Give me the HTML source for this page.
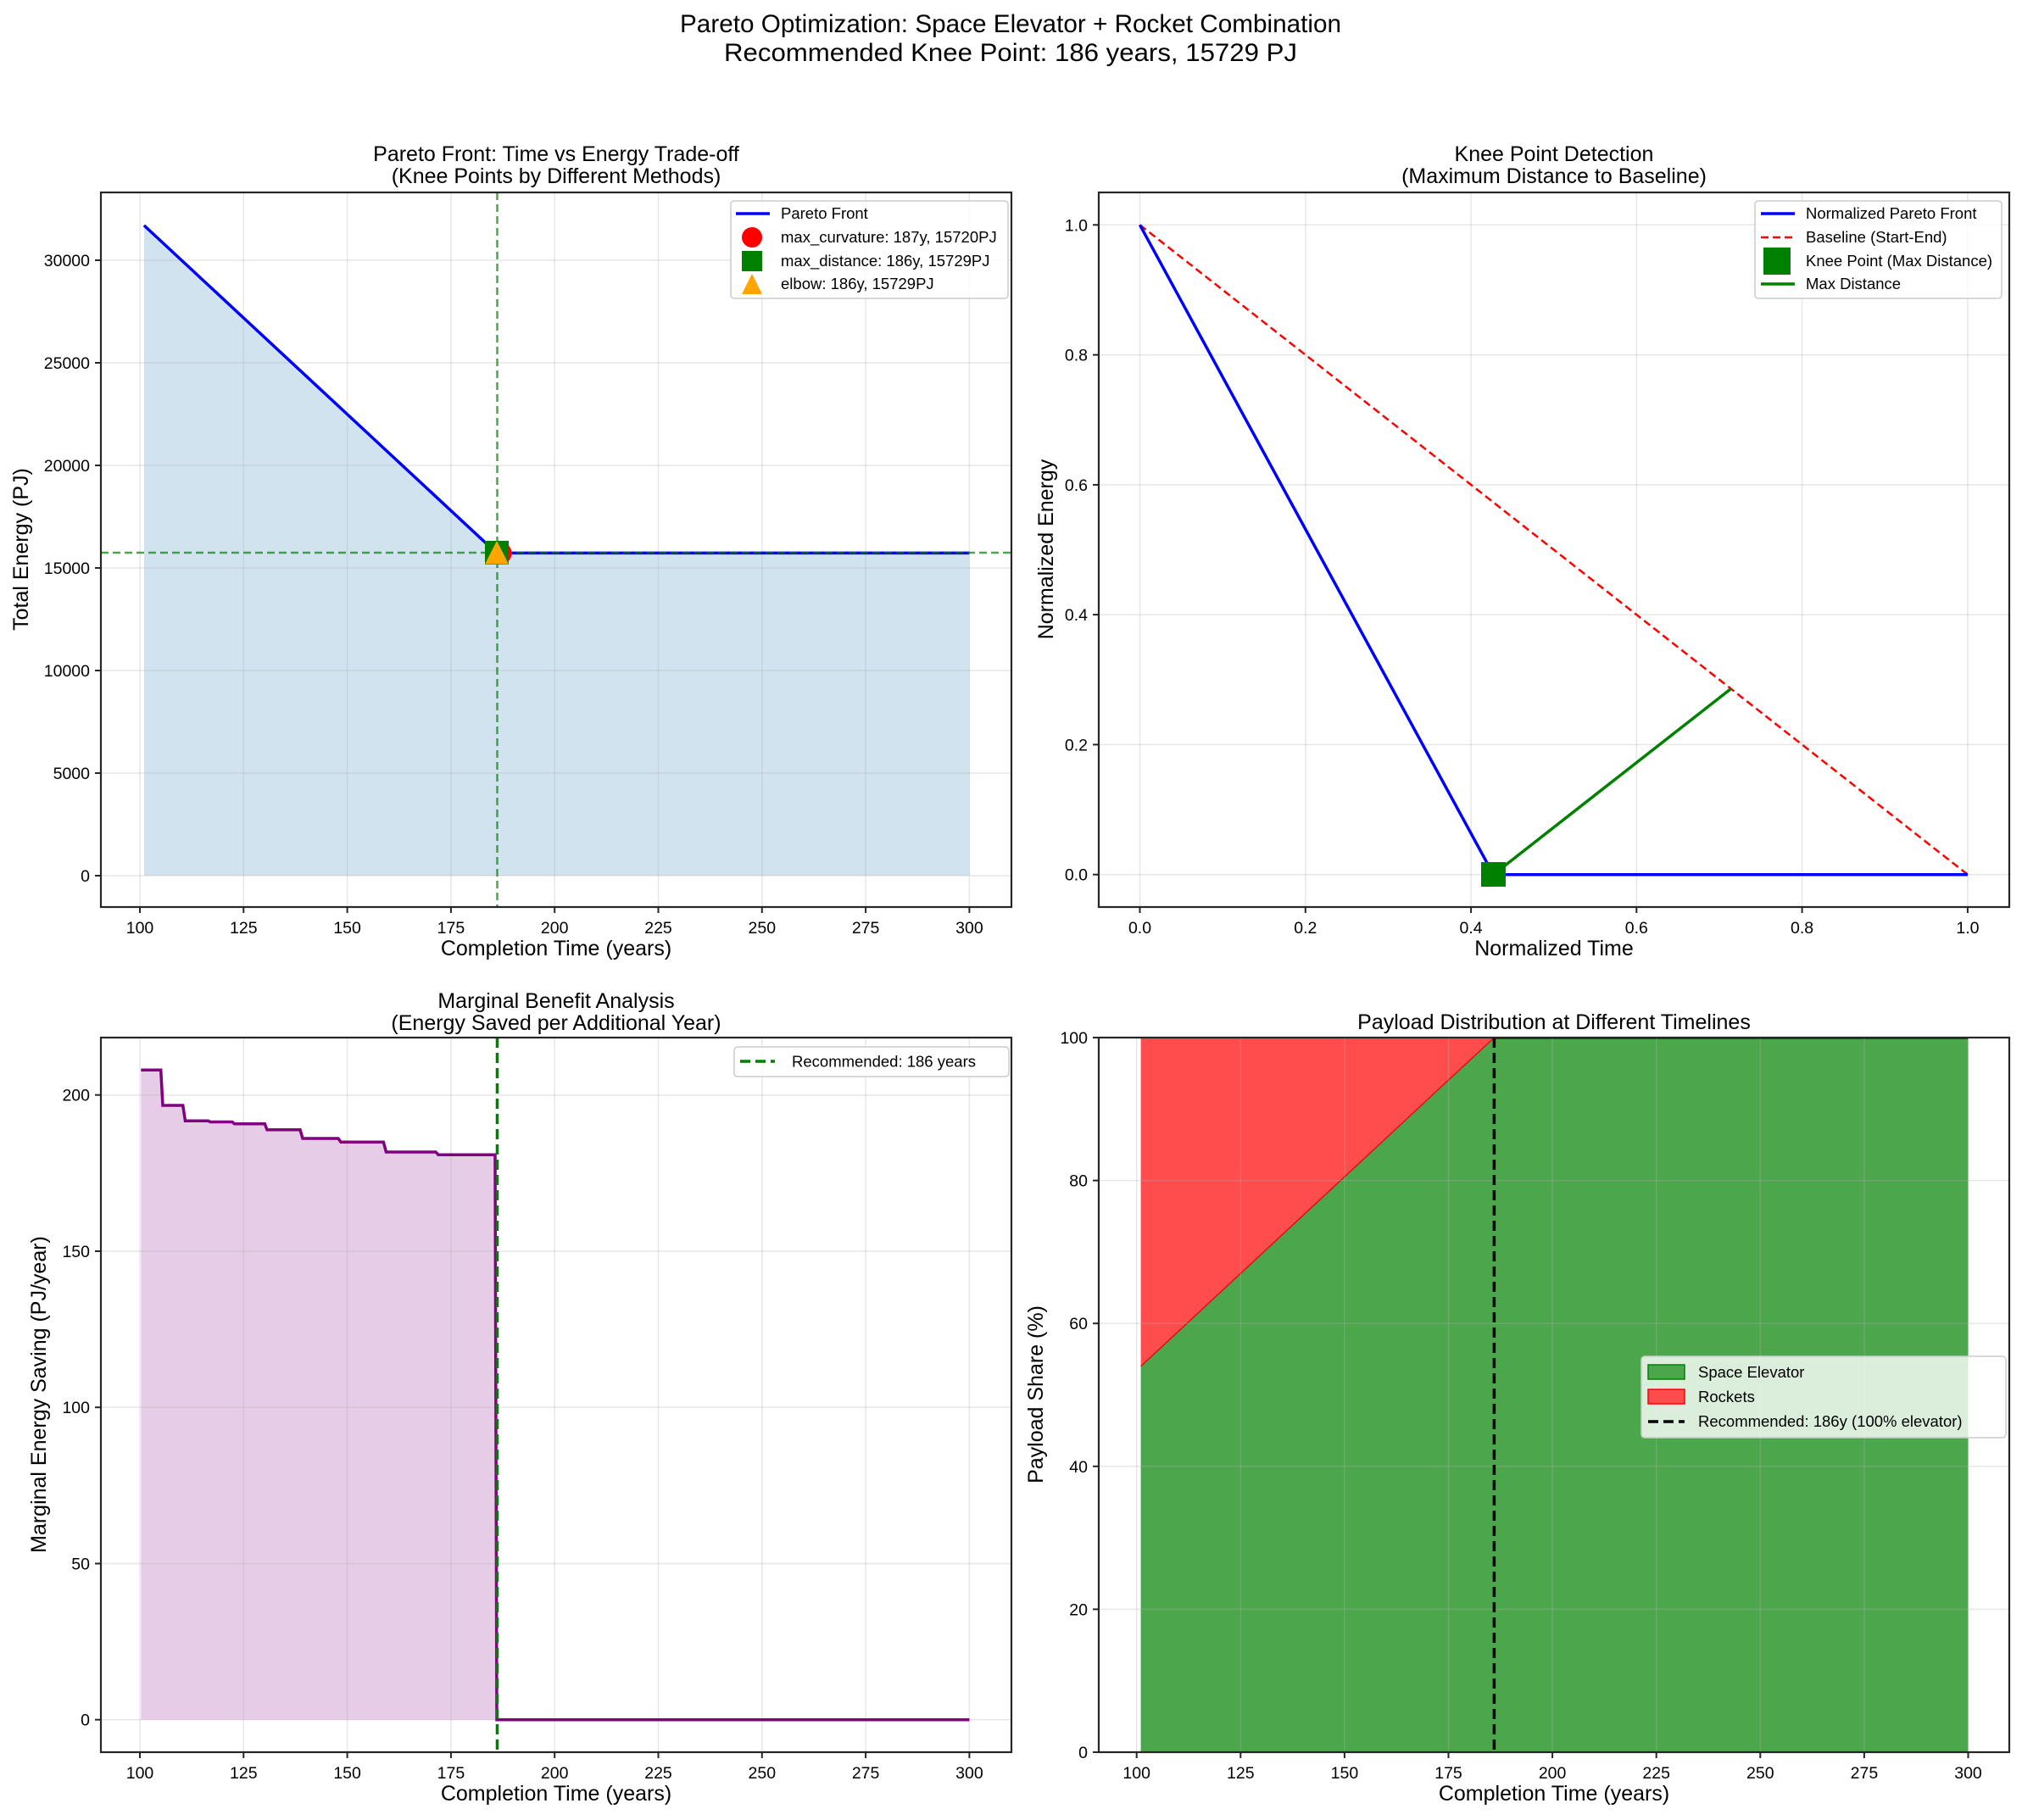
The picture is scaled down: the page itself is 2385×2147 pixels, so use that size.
<!DOCTYPE html>
<html><head><meta charset="utf-8"><style>
html,body{margin:0;padding:0;background:#fff}
svg{display:block}
text{font-family:"Liberation Sans",Arial,sans-serif;fill:#000}
.tk{font-size:19.5px}
.lb{font-size:25px}
.tt{font-size:25px}
.lg{font-size:18.5px}
.g{stroke:#b0b0b0;stroke-opacity:0.3;stroke-width:1.5}
.ax{fill:none;stroke:#262626;stroke-width:2.2}
.t{stroke:#262626;stroke-width:2}
</style></head><body>
<svg width="2385" height="2147" viewBox="0 0 2385 2147" xmlns="http://www.w3.org/2000/svg">
<rect width="2385" height="2147" fill="#fff"/>
<text x="1192" y="38" text-anchor="middle" font-size="29.5" textLength="780" lengthAdjust="spacingAndGlyphs">Pareto Optimization: Space Elevator + Rocket Combination</text>
<text x="1192" y="72" text-anchor="middle" font-size="29.5" textLength="676" lengthAdjust="spacingAndGlyphs">Recommended Knee Point: 186 years, 15729 PJ</text>

<!-- ===== Top-left ===== -->
<g>
<polygon points="169.9,265.9 585.7,652.4 1143.4,652.4 1143.4,1033 169.9,1033" fill="#d2e3f0"/>
<g class="g">
<line x1="165" y1="227" x2="165" y2="1070"/><line x1="287.3" y1="227" x2="287.3" y2="1070"/><line x1="409.6" y1="227" x2="409.6" y2="1070"/><line x1="531.9" y1="227" x2="531.9" y2="1070"/><line x1="654.2" y1="227" x2="654.2" y2="1070"/><line x1="776.5" y1="227" x2="776.5" y2="1070"/><line x1="898.8" y1="227" x2="898.8" y2="1070"/><line x1="1021.1" y1="227" x2="1021.1" y2="1070"/><line x1="1143.4" y1="227" x2="1143.4" y2="1070"/>
<line x1="119" y1="1033" x2="1193" y2="1033"/><line x1="119" y1="912" x2="1193" y2="912"/><line x1="119" y1="791" x2="1193" y2="791"/><line x1="119" y1="670" x2="1193" y2="670"/><line x1="119" y1="549" x2="1193" y2="549"/><line x1="119" y1="428" x2="1193" y2="428"/><line x1="119" y1="307" x2="1193" y2="307"/>
</g>
<polyline points="169.9,265.9 585.7,652.4 1143.4,652.4" fill="none" stroke="#0000ff" stroke-width="3.5"/>
<line x1="586.5" y1="227" x2="586.5" y2="1070" stroke="#008000" stroke-opacity="0.7" stroke-width="2.5" stroke-dasharray="9,5"/>
<line x1="119" y1="652" x2="1193" y2="652" stroke="#008000" stroke-opacity="0.7" stroke-width="2.5" stroke-dasharray="9,5"/>
<circle cx="590.6" cy="652.6" r="13" fill="#ff0000"/>
<rect x="572" y="638" width="28" height="28" fill="#008000"/>
<polygon points="586,638 600,665.5 572,665.5" fill="#ffa500"/>
<rect x="119" y="227" width="1074" height="843" class="ax"/>
<g class="t">
<line x1="165" y1="1070" x2="165" y2="1077"/><line x1="287.3" y1="1070" x2="287.3" y2="1077"/><line x1="409.6" y1="1070" x2="409.6" y2="1077"/><line x1="531.9" y1="1070" x2="531.9" y2="1077"/><line x1="654.2" y1="1070" x2="654.2" y2="1077"/><line x1="776.5" y1="1070" x2="776.5" y2="1077"/><line x1="898.8" y1="1070" x2="898.8" y2="1077"/><line x1="1021.1" y1="1070" x2="1021.1" y2="1077"/><line x1="1143.4" y1="1070" x2="1143.4" y2="1077"/>
<line x1="112" y1="1033" x2="119" y2="1033"/><line x1="112" y1="912" x2="119" y2="912"/><line x1="112" y1="791" x2="119" y2="791"/><line x1="112" y1="670" x2="119" y2="670"/><line x1="112" y1="549" x2="119" y2="549"/><line x1="112" y1="428" x2="119" y2="428"/><line x1="112" y1="307" x2="119" y2="307"/>
</g>
<g class="tk" text-anchor="middle">
<text x="165" y="1101">100</text><text x="287.3" y="1101">125</text><text x="409.6" y="1101">150</text><text x="531.9" y="1101">175</text><text x="654.2" y="1101">200</text><text x="776.5" y="1101">225</text><text x="898.8" y="1101">250</text><text x="1021.1" y="1101">275</text><text x="1143.4" y="1101">300</text>
</g>
<g class="tk" text-anchor="end">
<text x="106" y="1040">0</text><text x="106" y="919">5000</text><text x="106" y="798">10000</text><text x="106" y="677">15000</text><text x="106" y="556">20000</text><text x="106" y="435">25000</text><text x="106" y="314">30000</text>
</g>
<text x="656" y="1127" text-anchor="middle" class="lb">Completion Time (years)</text>
<text transform="translate(33,648) rotate(-90)" text-anchor="middle" class="lb">Total Energy (PJ)</text>
<text x="656" y="190" text-anchor="middle" class="tt">Pareto Front: Time vs Energy Trade-off</text>
<text x="656" y="216" text-anchor="middle" class="tt">(Knee Points by Different Methods)</text>
<rect x="862" y="237" width="327" height="115" rx="4" fill="#fff" fill-opacity="0.8" stroke="#cccccc" stroke-width="1.5"/>
<line x1="868" y1="252" x2="908" y2="252" stroke="#0000ff" stroke-width="3.5"/>
<circle cx="887" cy="280" r="12" fill="#ff0000"/>
<rect x="875" y="296" width="24" height="24" fill="#008000"/>
<polygon points="887,323 899,347 875,347" fill="#ffa500"/>
<g class="lg"><text x="921" y="258">Pareto Front</text><text x="921" y="286">max_curvature: 187y, 15720PJ</text><text x="921" y="314">max_distance: 186y, 15729PJ</text><text x="921" y="341">elbow: 186y, 15729PJ</text></g>
</g>

<!-- ===== Top-right ===== -->
<g>
<g class="g">
<line x1="1344.5" y1="227" x2="1344.5" y2="1070"/><line x1="1539.8" y1="227" x2="1539.8" y2="1070"/><line x1="1735.1" y1="227" x2="1735.1" y2="1070"/><line x1="1930.3" y1="227" x2="1930.3" y2="1070"/><line x1="2125.6" y1="227" x2="2125.6" y2="1070"/><line x1="2320.9" y1="227" x2="2320.9" y2="1070"/>
<line x1="1296" y1="1031.7" x2="2370" y2="1031.7"/><line x1="1296" y1="878.4" x2="2370" y2="878.4"/><line x1="1296" y1="725.1" x2="2370" y2="725.1"/><line x1="1296" y1="571.9" x2="2370" y2="571.9"/><line x1="1296" y1="418.6" x2="2370" y2="418.6"/><line x1="1296" y1="265.3" x2="2370" y2="265.3"/>
</g>
<line x1="1344.5" y1="265.3" x2="2320.9" y2="1031.7" stroke="#ff0000" stroke-width="2.5" stroke-dasharray="9,5"/>
<polyline points="1344.5,265.3 1761.5,1031.7 2320.9,1031.7" fill="none" stroke="#0000ff" stroke-width="3.5"/>
<line x1="1761.5" y1="1031.7" x2="2041.7" y2="812.5" stroke="#008000" stroke-width="3.5"/>
<rect x="1747" y="1017" width="29" height="29" fill="#008000"/>
<rect x="1296" y="227" width="1074" height="843" class="ax"/>
<g class="t">
<line x1="1344.5" y1="1070" x2="1344.5" y2="1077"/><line x1="1539.8" y1="1070" x2="1539.8" y2="1077"/><line x1="1735.1" y1="1070" x2="1735.1" y2="1077"/><line x1="1930.3" y1="1070" x2="1930.3" y2="1077"/><line x1="2125.6" y1="1070" x2="2125.6" y2="1077"/><line x1="2320.9" y1="1070" x2="2320.9" y2="1077"/>
<line x1="1289" y1="1031.7" x2="1296" y2="1031.7"/><line x1="1289" y1="878.4" x2="1296" y2="878.4"/><line x1="1289" y1="725.1" x2="1296" y2="725.1"/><line x1="1289" y1="571.9" x2="1296" y2="571.9"/><line x1="1289" y1="418.6" x2="1296" y2="418.6"/><line x1="1289" y1="265.3" x2="1296" y2="265.3"/>
</g>
<g class="tk" text-anchor="middle">
<text x="1344.5" y="1101">0.0</text><text x="1539.8" y="1101">0.2</text><text x="1735.1" y="1101">0.4</text><text x="1930.3" y="1101">0.6</text><text x="2125.6" y="1101">0.8</text><text x="2320.9" y="1101">1.0</text>
</g>
<g class="tk" text-anchor="end">
<text x="1283" y="1038.7">0.0</text><text x="1283" y="885.4">0.2</text><text x="1283" y="732.1">0.4</text><text x="1283" y="578.9">0.6</text><text x="1283" y="425.6">0.8</text><text x="1283" y="272.3">1.0</text>
</g>
<text x="1833" y="1127" text-anchor="middle" class="lb">Normalized Time</text>
<text transform="translate(1242,648) rotate(-90)" text-anchor="middle" class="lb">Normalized Energy</text>
<text x="1833" y="190" text-anchor="middle" class="tt">Knee Point Detection</text>
<text x="1833" y="216" text-anchor="middle" class="tt">(Maximum Distance to Baseline)</text>
<rect x="2070" y="237" width="291" height="115" rx="4" fill="#fff" fill-opacity="0.8" stroke="#cccccc" stroke-width="1.5"/>
<line x1="2077" y1="252" x2="2117" y2="252" stroke="#0000ff" stroke-width="3.5"/>
<line x1="2077" y1="280" x2="2117" y2="280" stroke="#ff0000" stroke-width="2.5" stroke-dasharray="9,5"/>
<rect x="2080" y="292" width="32" height="32" fill="#008000"/>
<line x1="2077" y1="335" x2="2117" y2="335" stroke="#008000" stroke-width="3.5"/>
<g class="lg"><text x="2130" y="258">Normalized Pareto Front</text><text x="2130" y="286">Baseline (Start-End)</text><text x="2130" y="314">Knee Point (Max Distance)</text><text x="2130" y="341">Max Distance</text></g>
</g>

<!-- ===== Bottom-left ===== -->
<g>
<polygon points="166.3,1262.3 189.7,1262.3 192,1304 215.7,1304 218.5,1322.3 245.7,1322.3 248,1323.5 274,1323.5 276.5,1325.7 312.3,1325.7 315,1332.7 354,1332.7 357,1343 399,1343 402,1347.3 452.3,1347.3 455.5,1359 514,1359 517,1362.3 584,1362.3 585.7,2028.7 166.3,2028.7" fill="#e6cce6"/>
<g class="g">
<line x1="165" y1="1224" x2="165" y2="2067"/><line x1="287.3" y1="1224" x2="287.3" y2="2067"/><line x1="409.6" y1="1224" x2="409.6" y2="2067"/><line x1="531.9" y1="1224" x2="531.9" y2="2067"/><line x1="654.2" y1="1224" x2="654.2" y2="2067"/><line x1="776.5" y1="1224" x2="776.5" y2="2067"/><line x1="898.8" y1="1224" x2="898.8" y2="2067"/><line x1="1021.1" y1="1224" x2="1021.1" y2="2067"/><line x1="1143.4" y1="1224" x2="1143.4" y2="2067"/>
<line x1="119" y1="2028.7" x2="1193" y2="2028.7"/><line x1="119" y1="1844.5" x2="1193" y2="1844.5"/><line x1="119" y1="1660.2" x2="1193" y2="1660.2"/><line x1="119" y1="1476" x2="1193" y2="1476"/><line x1="119" y1="1291.7" x2="1193" y2="1291.7"/>
</g>
<polyline points="166.3,1262.3 189.7,1262.3 192,1304 215.7,1304 218.5,1322.3 245.7,1322.3 248,1323.5 274,1323.5 276.5,1325.7 312.3,1325.7 315,1332.7 354,1332.7 357,1343 399,1343 402,1347.3 452.3,1347.3 455.5,1359 514,1359 517,1362.3 584,1362.3 586,2028.7 1143.4,2028.7" fill="none" stroke="#800080" stroke-width="3.5"/>
<line x1="586.5" y1="1224" x2="586.5" y2="2067" stroke="#008000" stroke-width="3.5" stroke-dasharray="12,6"/>
<rect x="119" y="1224" width="1074" height="843" class="ax"/>
<g class="t">
<line x1="165" y1="2067" x2="165" y2="2074"/><line x1="287.3" y1="2067" x2="287.3" y2="2074"/><line x1="409.6" y1="2067" x2="409.6" y2="2074"/><line x1="531.9" y1="2067" x2="531.9" y2="2074"/><line x1="654.2" y1="2067" x2="654.2" y2="2074"/><line x1="776.5" y1="2067" x2="776.5" y2="2074"/><line x1="898.8" y1="2067" x2="898.8" y2="2074"/><line x1="1021.1" y1="2067" x2="1021.1" y2="2074"/><line x1="1143.4" y1="2067" x2="1143.4" y2="2074"/>
<line x1="112" y1="2028.7" x2="119" y2="2028.7"/><line x1="112" y1="1844.5" x2="119" y2="1844.5"/><line x1="112" y1="1660.2" x2="119" y2="1660.2"/><line x1="112" y1="1476" x2="119" y2="1476"/><line x1="112" y1="1291.7" x2="119" y2="1291.7"/>
</g>
<g class="tk" text-anchor="middle">
<text x="165" y="2098">100</text><text x="287.3" y="2098">125</text><text x="409.6" y="2098">150</text><text x="531.9" y="2098">175</text><text x="654.2" y="2098">200</text><text x="776.5" y="2098">225</text><text x="898.8" y="2098">250</text><text x="1021.1" y="2098">275</text><text x="1143.4" y="2098">300</text>
</g>
<g class="tk" text-anchor="end">
<text x="106" y="2035.7">0</text><text x="106" y="1851.5">50</text><text x="106" y="1667.2">100</text><text x="106" y="1483">150</text><text x="106" y="1298.7">200</text>
</g>
<text x="656" y="2124" text-anchor="middle" class="lb">Completion Time (years)</text>
<text transform="translate(54,1645) rotate(-90)" text-anchor="middle" class="lb">Marginal Energy Saving (PJ/year)</text>
<text x="656" y="1189" text-anchor="middle" class="tt">Marginal Benefit Analysis</text>
<text x="656" y="1215" text-anchor="middle" class="tt">(Energy Saved per Additional Year)</text>
<rect x="866" y="1235" width="324" height="35" rx="4" fill="#fff" fill-opacity="0.8" stroke="#cccccc" stroke-width="1.5"/>
<line x1="873" y1="1252" x2="914" y2="1252" stroke="#008000" stroke-width="3.5" stroke-dasharray="12,6"/>
<text x="934" y="1258.5" class="lg">Recommended: 186 years</text>
</g>

<!-- ===== Bottom-right ===== -->
<g>
<polygon points="1345.6,1611.8 1762.4,1224 2321.5,1224 2321.5,2067 1345.6,2067" fill="#4ca64c"/>
<polygon points="1345.6,1224 1762.4,1224 1345.6,1611.8" fill="#ff4d4d"/>
<line x1="1345.6" y1="1611.8" x2="1762.4" y2="1224" stroke="#e01010" stroke-width="1.5"/>
<line x1="1762.4" y1="1225" x2="2321.5" y2="1225" stroke="#c00000" stroke-width="2"/>
<g class="g">
<line x1="1340.7" y1="1224" x2="1340.7" y2="2067"/><line x1="1463.3" y1="1224" x2="1463.3" y2="2067"/><line x1="1585.9" y1="1224" x2="1585.9" y2="2067"/><line x1="1708.5" y1="1224" x2="1708.5" y2="2067"/><line x1="1831.1" y1="1224" x2="1831.1" y2="2067"/><line x1="1953.7" y1="1224" x2="1953.7" y2="2067"/><line x1="2076.3" y1="1224" x2="2076.3" y2="2067"/><line x1="2198.9" y1="1224" x2="2198.9" y2="2067"/><line x1="2321.5" y1="1224" x2="2321.5" y2="2067"/>
<line x1="1296" y1="1898.4" x2="2370" y2="1898.4"/><line x1="1296" y1="1729.8" x2="2370" y2="1729.8"/><line x1="1296" y1="1561.2" x2="2370" y2="1561.2"/><line x1="1296" y1="1392.6" x2="2370" y2="1392.6"/>
</g>
<line x1="1762.4" y1="1224" x2="1762.4" y2="2067" stroke="#000" stroke-width="3.5" stroke-dasharray="12,6"/>
<rect x="1296" y="1224" width="1074" height="843" class="ax"/>
<g class="t">
<line x1="1340.7" y1="2067" x2="1340.7" y2="2074"/><line x1="1463.3" y1="2067" x2="1463.3" y2="2074"/><line x1="1585.9" y1="2067" x2="1585.9" y2="2074"/><line x1="1708.5" y1="2067" x2="1708.5" y2="2074"/><line x1="1831.1" y1="2067" x2="1831.1" y2="2074"/><line x1="1953.7" y1="2067" x2="1953.7" y2="2074"/><line x1="2076.3" y1="2067" x2="2076.3" y2="2074"/><line x1="2198.9" y1="2067" x2="2198.9" y2="2074"/><line x1="2321.5" y1="2067" x2="2321.5" y2="2074"/>
<line x1="1289" y1="2067" x2="1296" y2="2067"/><line x1="1289" y1="1898.4" x2="1296" y2="1898.4"/><line x1="1289" y1="1729.8" x2="1296" y2="1729.8"/><line x1="1289" y1="1561.2" x2="1296" y2="1561.2"/><line x1="1289" y1="1392.6" x2="1296" y2="1392.6"/><line x1="1289" y1="1224" x2="1296" y2="1224"/>
</g>
<g class="tk" text-anchor="middle">
<text x="1340.7" y="2098">100</text><text x="1463.3" y="2098">125</text><text x="1585.9" y="2098">150</text><text x="1708.5" y="2098">175</text><text x="1831.1" y="2098">200</text><text x="1953.7" y="2098">225</text><text x="2076.3" y="2098">250</text><text x="2198.9" y="2098">275</text><text x="2321.5" y="2098">300</text>
</g>
<g class="tk" text-anchor="end">
<text x="1283" y="2074">0</text><text x="1283" y="1905.4">20</text><text x="1283" y="1736.8">40</text><text x="1283" y="1568.2">60</text><text x="1283" y="1399.6">80</text><text x="1283" y="1231">100</text>
</g>
<text x="1833" y="2124" text-anchor="middle" class="lb">Completion Time (years)</text>
<text transform="translate(1230,1645) rotate(-90)" text-anchor="middle" class="lb">Payload Share (%)</text>
<text x="1833" y="1214" text-anchor="middle" class="tt">Payload Distribution at Different Timelines</text>
<rect x="1936" y="1600" width="430" height="96" rx="4" fill="#fff" fill-opacity="0.8" stroke="#cccccc" stroke-width="1.5"/>
<rect x="1944" y="1610" width="43" height="17" fill="#4ca64c" stroke="#008000" stroke-width="1.5"/>
<rect x="1944" y="1639" width="43" height="17" fill="#ff4d4d" stroke="#ff0000" stroke-width="1.5"/>
<line x1="1944" y1="1677" x2="1987" y2="1677" stroke="#000" stroke-width="3.5" stroke-dasharray="12,6"/>
<g class="lg"><text x="2003" y="1625">Space Elevator</text><text x="2003" y="1654">Rockets</text><text x="2003" y="1683">Recommended: 186y (100% elevator)</text></g>
</g>
</svg>
</body></html>
